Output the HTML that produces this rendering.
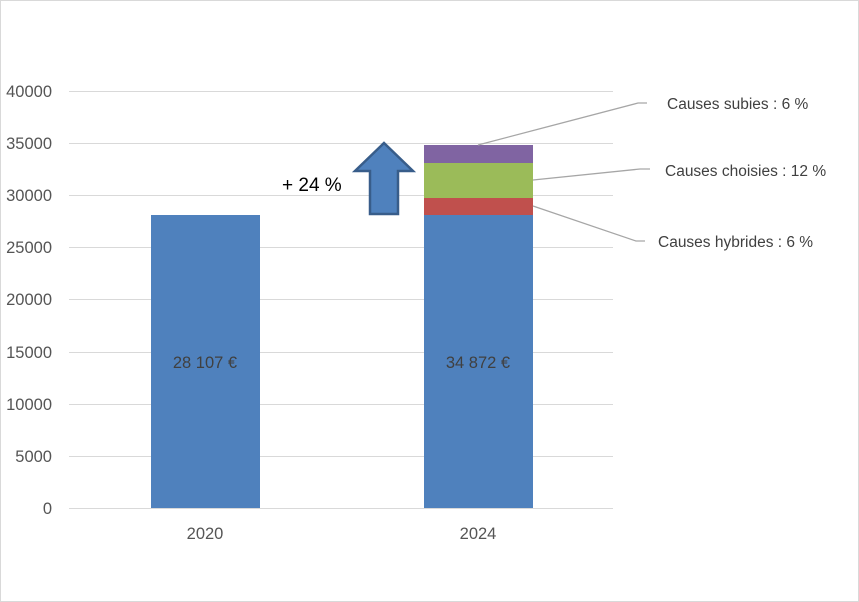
<!DOCTYPE html>
<html><head><meta charset="utf-8"><style>
body{margin:0;background:#fff}
svg{display:block;font-family:"Liberation Sans",Calibri,sans-serif}
</style></head><body>
<svg width="859" height="602" viewBox="0 0 859 602" xmlns="http://www.w3.org/2000/svg">
<rect x="0.5" y="0.5" width="858" height="601" fill="#fff" stroke="#d9d9d9"/>
<g stroke="#d9d9d9" stroke-width="1">
<line x1="69" y1="91.5" x2="613" y2="91.5"/>
<line x1="69" y1="143.5" x2="613" y2="143.5"/>
<line x1="69" y1="195.5" x2="613" y2="195.5"/>
<line x1="69" y1="247.5" x2="613" y2="247.5"/>
<line x1="69" y1="299.5" x2="613" y2="299.5"/>
<line x1="69" y1="352.5" x2="613" y2="352.5"/>
<line x1="69" y1="404.5" x2="613" y2="404.5"/>
<line x1="69" y1="456.5" x2="613" y2="456.5"/>
<line x1="69" y1="508.5" x2="613" y2="508.5"/>
</g>
<g fill="#555" font-size="16.5" text-anchor="end">
<text x="52" y="97">40000</text>
<text x="52" y="149">35000</text>
<text x="52" y="201">30000</text>
<text x="52" y="253">25000</text>
<text x="52" y="305">20000</text>
<text x="52" y="358">15000</text>
<text x="52" y="410">10000</text>
<text x="52" y="462">5000</text>
<text x="52" y="514">0</text>
</g>
<rect x="151" y="215" width="109" height="293" fill="#4f81bd"/>
<rect x="424" y="215" width="109" height="293" fill="#4f81bd"/>
<rect x="424" y="198" width="109" height="17" fill="#c0504d"/>
<rect x="424" y="163" width="109" height="35" fill="#9bbb59"/>
<rect x="424" y="145" width="109" height="18" fill="#8064a2"/>
<g fill="#404040" font-size="16.5" text-anchor="middle">
<text x="205" y="368">28 107 €</text>
<text x="478" y="368">34 872 €</text>
<text x="205" y="539" fill="#555">2020</text>
<text x="478" y="539" fill="#555">2024</text>
</g>
<polygon points="384,143 413,171 398,171 398,214 370,214 370,171 355,171" fill="#4f81bd" stroke="#385d8a" stroke-width="2.5" stroke-linejoin="miter"/>
<text x="282" y="191" font-size="19" fill="#000">+ 24 %</text>
<g stroke="#a6a6a6" stroke-width="1.3" fill="none">
<polyline points="478,145 638,103 647,103"/>
<polyline points="533,180 640,169 650,169"/>
<polyline points="533,206 636,241 645,241"/>
</g>
<g fill="#404040" font-size="15.5">
<text x="667" y="109">Causes subies : 6 %</text>
<text x="665" y="176">Causes choisies : 12 %</text>
<text x="658" y="247">Causes hybrides : 6 %</text>
</g>
</svg>
</body></html>
